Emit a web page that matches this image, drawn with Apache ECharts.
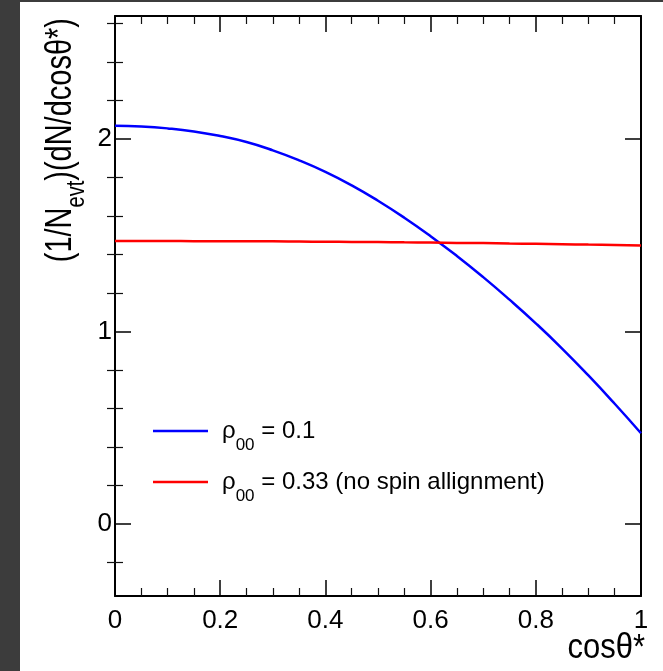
<!DOCTYPE html>
<html>
<head>
<meta charset="utf-8">
<script src="https://cdn.jsdelivr.net/npm/echarts@6/dist/echarts.min.js"></script>
<style>
  html, body { margin: 0; padding: 0; background: #ffffff; }
  #chart { width: 663px; height: 671px; }
</style>
</head>
<body>
<div id="chart"></div>
<script>
// cos(theta*) sampling points
const cosTheta = [0, 0.05, 0.1, 0.15, 0.2, 0.25, 0.3, 0.35, 0.4, 0.45, 0.5,
                  0.55, 0.6, 0.65, 0.7, 0.75, 0.8, 0.85, 0.9, 0.95, 1];
// normalized distribution for rho00 = 0.1
const rho010 = [2.070, 2.066, 2.056, 2.040, 2.016, 1.985, 1.942, 1.890, 1.830, 1.760, 1.680,
                1.592, 1.496, 1.393, 1.283, 1.166, 1.043, 0.912, 0.772, 0.625, 0.472];
// normalized distribution for rho00 = 0.33 (flat)
const rho033 = [1.471, 1.471, 1.471, 1.470, 1.470, 1.469, 1.469, 1.468, 1.467, 1.466, 1.465,
                1.464, 1.463, 1.461, 1.460, 1.458, 1.456, 1.454, 1.452, 1.450, 1.447];

const xTickLabels = ['0', '0.2', '0.4', '0.6', '0.8', '1'];
const yMajor = [0, 1, 2];
const yMinor = [-0.2, 0.2, 0.4, 0.6, 0.8, 1.2, 1.4, 1.6, 1.8, 2.2, 2.4, 2.6];
const seriesNames = ['ρ00 = 0.1', 'ρ00 = 0.33 (no spin allignment)'];

const FONT = '"Liberation Sans", Arial, Helvetica, sans-serif';
const Y_MIN = -0.374, Y_MAX = 2.64;

const toPairs = (xs, ys) => xs.map((x, i) => [x, ys[i]]);

const lineAxis = { show: true, onZero: false, lineStyle: { color: '#000', width: 2 } };
const majorTick = len => ({ show: true, inside: true, length: len, lineStyle: { color: '#000', width: 1.5 } });

const xBase = {
  type: 'value', min: 0, max: 1, interval: 0.2,
  axisLine: lineAxis,
  axisTick: majorTick(16),
  minorTick: { show: true, splitNumber: 4, length: 8, lineStyle: { color: '#111', width: 1.2 } },
  splitLine: { show: false },
  minorSplitLine: { show: false }
};

const yBase = {
  type: 'value', min: Y_MIN, max: Y_MAX,
  splitLine: { show: false }
};

// rich styles: main text centred on the line, subscript dropped to the bottom
const richText = (main, sub, lineH) => ({
  m: { fontSize: main, fontFamily: FONT, color: '#000', fill: '#000', lineHeight: lineH, verticalAlign: 'middle' },
  s: { fontSize: sub, fontFamily: FONT, color: '#000', fill: '#000', lineHeight: sub, verticalAlign: 'bottom' }
});

const option = {
  backgroundColor: '#ffffff',
  animation: false,
  grid: { left: 115, top: 16, width: 526, height: 580, containLabel: false, outerBoundsMode: 'none' },
  xAxis: [
    Object.assign({}, xBase, {
      position: 'bottom',
      axisLabel: {
        show: true, margin: 12, color: '#000', fontSize: 26, fontFamily: FONT,
        formatter: v => xTickLabels[Math.round(v / 0.2)]
      }
    }),
    Object.assign({}, xBase, { position: 'top', axisLabel: { show: false } })
  ],
  yAxis: [
    Object.assign({}, yBase, {
      position: 'left',
      axisLine: lineAxis,
      axisTick: Object.assign(majorTick(16), { customValues: yMajor }),
      axisLabel: {
        show: true, customValues: yMajor, margin: 3, color: '#000',
        fontSize: 26, fontFamily: FONT
      }
    }),
    Object.assign({}, yBase, {
      position: 'left',
      axisLine: { show: false },
      axisTick: { show: true, inside: true, length: 8, customValues: yMinor,
                  lineStyle: { color: '#111', width: 1.2 } },
      axisLabel: { show: false }
    }),
    Object.assign({}, yBase, {
      position: 'right',
      axisLine: lineAxis,
      axisTick: Object.assign(majorTick(16), { customValues: yMajor }),
      axisLabel: { show: false }
    }),
    Object.assign({}, yBase, {
      position: 'right',
      axisLine: { show: false },
      axisTick: { show: true, inside: true, length: 8, customValues: yMinor,
                  lineStyle: { color: '#111', width: 1.2 } },
      axisLabel: { show: false }
    })
  ],
  legend: {
    orient: 'vertical', left: 153, top: 419, padding: 0, itemGap: 16,
    itemWidth: 55, itemHeight: 2.5, icon: 'rect', selectedMode: false,
    data: seriesNames,
    formatter: name => '{m|ρ}{s|00}{m|' + name.replace(/^ρ00/, '') + '}',
    textStyle: {
      color: '#000', fontFamily: FONT, padding: [0, 0, 0, 9],
      rich: richText(24, 17, 46)
    }
  },
  series: [
    {
      name: seriesNames[0], type: 'line', xAxisIndex: 0, yAxisIndex: 0,
      data: toPairs(cosTheta, rho010), showSymbol: false, symbol: 'none', smooth: true,
      lineStyle: { color: '#0000ff', width: 2.5 }, itemStyle: { color: '#0000ff' }
    },
    {
      name: seriesNames[1], type: 'line', xAxisIndex: 0, yAxisIndex: 0,
      data: toPairs(cosTheta, rho033), showSymbol: false, symbol: 'none', smooth: true,
      lineStyle: { color: '#ff0000', width: 2.5 }, itemStyle: { color: '#ff0000' }
    }
  ],
  graphic: [
    { type: 'rect', left: 0, top: 0, z: 100, shape: { width: 20, height: 671 }, style: { fill: '#3c3c3c' } },
    { type: 'rect', left: 0, top: 0, z: 100, shape: { width: 663, height: 2 }, style: { fill: '#3c3c3c' } },
    // y-axis title, read bottom to top
    {
      type: 'text', x: 61, y: 18, rotation: Math.PI / 2, scaleY: 1.25, z: 100,
      style: {
        text: '{m|(1/N}{s|evt}{m|)(dN/dcosθ*)}',
        align: 'right', verticalAlign: 'middle',
        fill: '#000', fontFamily: FONT,
        rich: richText(29, 20, 46)
      }
    },
    // x-axis title, right-aligned under the axis end
    {
      type: 'text', x: 645, y: 648, scaleY: 1.15, z: 100,
      style: {
        text: 'cosθ*', align: 'right', verticalAlign: 'middle',
        fill: '#000', fontSize: 31, fontFamily: FONT
      }
    }
  ]
};

const chart = echarts.init(document.getElementById('chart'), null, { renderer: 'canvas' });
chart.setOption(option);
</script>
</body>
</html>
